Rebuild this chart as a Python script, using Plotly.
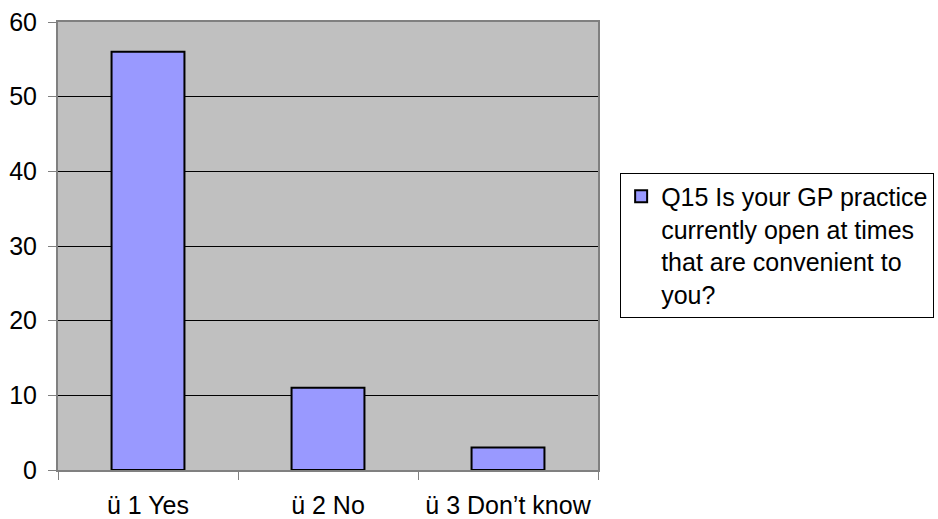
import plotly.graph_objects as go

# dane
categories = ["ü 1 Yes", "ü 2 No", "ü 3 Don’t know"]
values = [56, 11, 3]
series_name = "Q15 Is your GP practice<br>currently open at times<br>that are convenient to<br>you?"

fig = go.Figure()
fig.add_bar(
    x=categories,
    y=values,
    name=series_name,
    marker=dict(color="#9999FF", line=dict(color="black", width=2)),
    width=0.405,
    showlegend=True,
)

font = dict(family="Liberation Sans, Arial, sans-serif", size=25, color="black")

fig.update_layout(
    width=938, height=519,
    margin=dict(l=58, r=340, t=22, b=49, autoexpand=False),
    paper_bgcolor="white",
    plot_bgcolor="#C0C0C0",
    font=font,
    showlegend=True,
    legend=dict(
        x=1.041, xanchor="left", y=0.664, yanchor="top",
        bordercolor="black", borderwidth=1, bgcolor="white",
        font=dict(family="Liberation Sans, Arial, sans-serif", size=25),
        itemwidth=30, valign="top",
    ),
)
fig.update_yaxes(
    range=[0, 60], dtick=10,
    showgrid=True, gridcolor="black", gridwidth=1,
    showline=True, linecolor="#808080", linewidth=2, mirror=True,
    ticks="outside", ticklen=8, tickcolor="#808080",
    ticklabelstandoff=6, automargin=False, ticklabeloverflow="allow",
    zeroline=False, fixedrange=True,
)
fig.update_xaxes(
    showline=True, linecolor="#808080", linewidth=2, mirror=True,
    ticks="outside", ticklen=8, tickcolor="#808080", tickson="boundaries",
    ticklabelstandoff=12, tickangle=0, automargin=False, ticklabeloverflow="allow",
    fixedrange=True,
)

# bez marginesu body, zeby wykres zajmowal cale okno
fig.write_html("out.html", config={"displayModeBar": False},
               post_script="document.body.style.margin='0';")
